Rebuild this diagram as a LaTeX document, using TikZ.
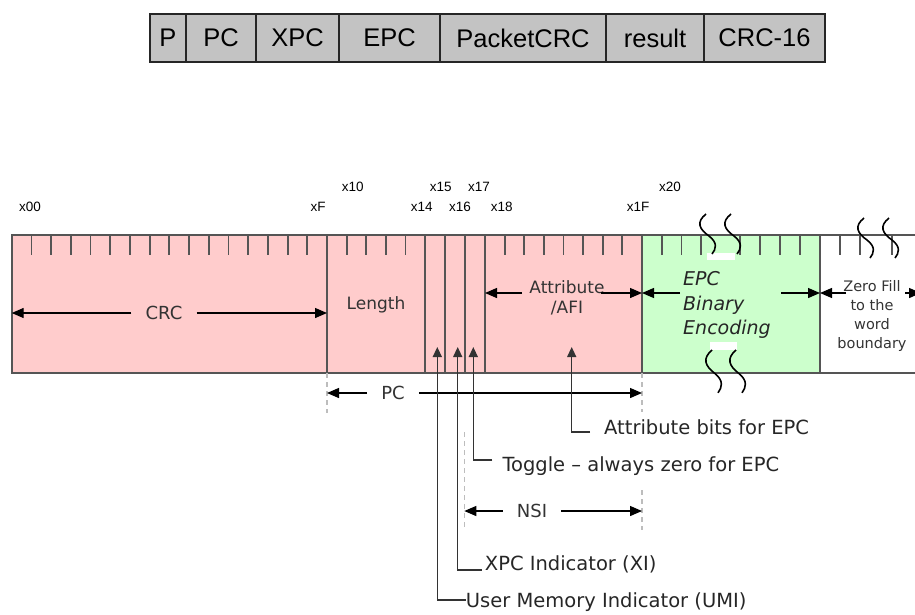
\documentclass[tikz,border=0pt]{standalone}
\usepackage{fontspec}
\setmainfont{DejaVu Sans}
\newfontfamily\arialfont{Liberation Sans}
\usepackage{tikz}
\usetikzlibrary{arrows.meta,positioning}
\definecolor{fieldpink}{HTML}{FFCCCC}
\definecolor{fieldgreen}{HTML}{CCFFCC}
\definecolor{hdrgray}{HTML}{C3C3C3}
\definecolor{framegray}{HTML}{555555}
\definecolor{guidegray}{HTML}{BDBDBD}
\newcommand{\fs}[2]{\fontsize{#1}{#2}\selectfont}

\begin{document}
\begin{tikzpicture}[x=1pt, y=-1pt,
  hdrcell/.style={draw=black!85, line width=1.8pt, fill=hdrgray, minimum height=48pt, inner sep=0pt, outer sep=0pt, font=\arialfont\fs{25.5}{25.5}},
  bitlabel/.style={font=\arialfont\fs{13.5}{13.5}, inner sep=0pt},
  fieldtxt/.style={font=\fs{17}{19.5}, text=black!80, align=center, inner sep=0pt},
  dimlabel/.style={font=\fs{18}{18}, text=black!80, inner xsep=14pt, inner ysep=0pt},
  dimarrow/.style={draw=black, line width=1.3pt, -{Triangle[length=12pt,width=10pt]}},
  callout/.style={draw=black!80, line width=1.4pt, -{Triangle[length=10pt,width=9pt]}},
  calltxt/.style={font=\fs{19.5}{19.5}, text=black!85, anchor=west, inner ysep=0pt, inner xsep=1pt},
  guide/.style={draw=guidegray, line width=1.4pt, dash pattern=on 5pt off 4pt},
  tickmark/.style={draw=framegray, line width=1.8pt},
  squig/.pic={\draw[line width=1.6pt, black] (0,0) .. controls (-10,8) and (-7,15) .. (3,22) .. controls (12,29) and (10,35) .. (6,40);}
]
  \useasboundingbox (0,0) rectangle (915,614);

  % 1. Header row
  \node[hdrcell, minimum width=36pt, anchor=west] (hP) at (150,38) {P};
  \node[hdrcell, minimum width=70pt, right=0pt of hP] (hPC) {PC};
  \node[hdrcell, minimum width=83pt, right=0pt of hPC] (hXPC) {XPC};
  \node[hdrcell, minimum width=101pt, right=0pt of hXPC] (hEPC) {EPC};
  \node[hdrcell, minimum width=166pt, right=0pt of hEPC] (hCRC) {PacketCRC};
  \node[hdrcell, minimum width=98pt, right=0pt of hCRC] (hres) {result};
  \node[hdrcell, minimum width=121pt, right=0pt of hres] (hCRC16) {CRC-16};

  % 2. Field backgrounds
  \fill[fieldpink] (11.7,235) rectangle (642,373);
  \fill[fieldgreen] (642,235) rectangle (820,373);

  % 3. Bit ticks
  \foreach \k in {1,...,15}
    \draw[tickmark] (11.7+19.71*\k,235) -- ++(0,20);
  \foreach \k in {1,...,4}
    \draw[tickmark] (327+19.6*\k,235) -- ++(0,20);
  \foreach \k in {1,...,7}
    \draw[tickmark] (485+19.6*\k,235) -- ++(0,20);
  \foreach \x in {661.7,681.4,701,740,760,780,800,840,860,892}
    \draw[tickmark] (\x,235) -- ++(0,20);

  % 4. Frame and field borders
  \draw[framegray, line width=1.6pt] (915,235) -- (11.7,235) -- (11.7,373) -- (915,373);
  \foreach \x in {327,425,445,465,485,642,820}
    \draw[framegray, line width=1.6pt] (\x,235) -- (\x,373);

  % 5. Breaks in the EPC field
  \fill[white] (706.7,253) rectangle (735,260);
  \fill[white] (710,342) rectangle (737,350);
  \pic at (706,214) {squig};
  \pic at (731,214) {squig};
  \pic at (864,218) {squig};
  \pic at (889,218) {squig};
  \pic[yscale=1.07] at (712,350) {squig};
  \pic[yscale=1.07] at (736,350) {squig};

  % 6. Bit numbers
  \node[bitlabel] (lx00) at (30,207) {x00};
  \node[bitlabel] (lxF) at (318,207) {xF};
  \node[bitlabel] (lx10) at (352.7,187) {x10};
  \node[bitlabel] (lx14) at (421.7,207) {x14};
  \node[bitlabel] (lx15) at (440.7,187) {x15};
  \node[bitlabel] (lx16) at (460,207) {x16};
  \node[bitlabel] (lx17) at (479,187) {x17};
  \node[bitlabel] (lx18) at (501.7,207) {x18};
  \node[bitlabel] (lx1F) at (638,207) {x1F};
  \node[bitlabel] (lx20) at (670,187) {x20};

  % 7. Field names
  \coordinate (crcL) at (11.7,313);
  \coordinate (crcR) at (327,313);
  \node[dimlabel] (crc) at (164,313) {CRC};
  \draw[dimarrow] (crc) -- (crcL);
  \draw[dimarrow] (crc) -- (crcR);

  \node[fieldtxt] (len) at (376,305) {Length};

  \node[fieldtxt] (attr) at (567,298) {Attribute\\/AFI};
  \coordinate (attrA) at (522,293);
  \coordinate (attrL) at (485,293);
  \coordinate (attrB) at (601,293);
  \coordinate (attrR) at (642,293);
  \draw[dimarrow] (attrA) -- (attrL);
  \draw[dimarrow] (attrB) -- (attrR);

  \node[fieldtxt, font=\fs{19}{24.5}\itshape, text=black!85, align=left, anchor=west] (epc) at (683,305) {EPC\\Binary\\Encoding};
  \coordinate (epcA) at (680,293);
  \coordinate (epcB) at (781,293);
  \coordinate (zeroL) at (820,293);
  \draw[dimarrow] (epcA) -- (attrR);
  \draw[dimarrow] (epcB) -- (zeroL);

  \node[fieldtxt, font=\fs{14.5}{18.7}] (zero) at (872,316) {Zero Fill\\to the\\word\\boundary};
  \coordinate (zeroA) at (846,293);
  \coordinate (zeroB) at (905,293);
  \coordinate (zeroR) at (921,293);
  \draw[dimarrow] (zeroA) -- (zeroL);
  \draw[dimarrow] (zeroB) -- (zeroR);

  % 8. PC and NSI spans
  \draw[guide] (327,373) -- (327,413);
  \draw[guide] (642,373) -- (642,412);
  \draw[guide] (464.3,432) -- (464.3,530);
  \draw[guide] (642,490) -- (642,530);

  \coordinate (pcL) at (327,393);
  \coordinate (pcR) at (642,393);
  \node[dimlabel] (pc) at (393,393) {PC};
  \draw[dimarrow] (pc) -- (pcL);
  \draw[dimarrow] (pc) -- (pcR);

  \coordinate (nsiL) at (464.3,511);
  \coordinate (nsiR) at (642,511);
  \node[dimlabel] (nsi) at (532,511) {NSI};
  \draw[dimarrow] (nsi) -- (nsiL);
  \draw[dimarrow] (nsi) -- (nsiR);

  % 9. Callouts for single bits
  \coordinate (umiTip) at (437.3,347);
  \coordinate (xiTip) at (457.7,347);
  \coordinate (togTip) at (473.3,347);
  \coordinate (attrTip) at (571.7,347);

  \node[calltxt] (attrbits) at (590,427) [inner xsep=14pt] {Attribute bits for EPC};
  \node[calltxt] (toggle) at (492.3,466) [inner xsep=10pt] {Toggle -- always zero for EPC};
  \node[calltxt] (xi) at (481.7,564) [inner xsep=3pt] {XPC Indicator (XI)};
  \node[calltxt] (umi) at (465.7,602) [inner xsep=0pt] {User Memory Indicator (UMI)};

  \draw[callout] ([yshift=-5pt]attrbits.west) -| (attrTip);
  \draw[callout] ([yshift=6pt]toggle.west) -| (togTip);
  \draw[callout] ([yshift=-6pt]xi.west) -| (xiTip);
  \draw[callout] ([yshift=2pt]umi.west) -| (umiTip);
\end{tikzpicture}
\end{document}
